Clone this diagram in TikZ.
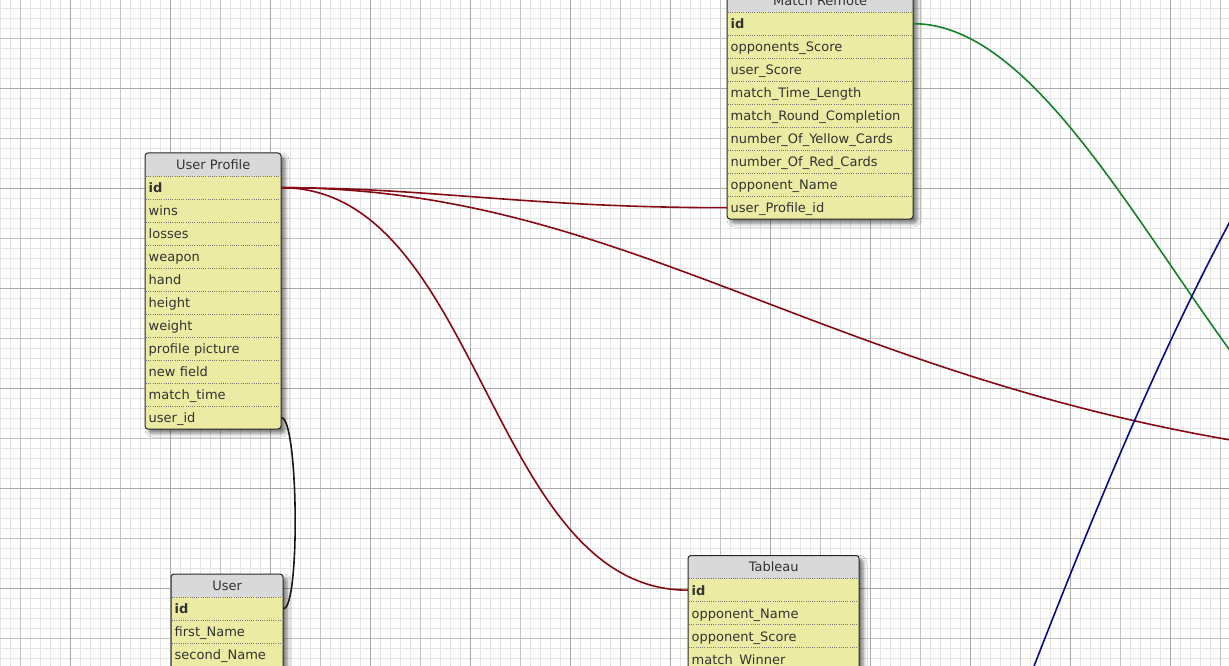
\documentclass[tikz,border=0pt]{standalone}
\usepackage{fontspec}
\setmainfont{DejaVu Sans}
\usetikzlibrary{shadows.blur}

\definecolor{gridminor}{HTML}{E4E4E4}
\definecolor{gridmid}{HTML}{C4C4C4}
\definecolor{gridmajor}{HTML}{AAAAAA}
\definecolor{headgray}{HTML}{D9D9D9}
\definecolor{rowyellow}{HTML}{EBEBA3}
\definecolor{inkgray}{HTML}{333333}
\definecolor{sepgray}{HTML}{777777}
\definecolor{fkred}{HTML}{850A14}
\definecolor{fkgreen}{HTML}{14822A}
\definecolor{fkblue}{HTML}{0A0A85}

\tikzset{
  minorline/.style={draw=gridminor, line width=1pt},
  midline/.style={draw=gridmid, line width=1pt},
  majorline/.style={draw=gridmajor, line width=1pt},
  tablebody/.style={fill=rowyellow, rounded corners=3pt,
    blur shadow={shadow xshift=4pt, shadow yshift=-4pt,
                 shadow blur radius=4pt, shadow opacity=55}},
  tableborder/.style={draw=black!85, line width=1pt, rounded corners=3pt},
  rowsep/.style={draw=sepgray, line width=0.8pt, dash pattern=on 1pt off 1.2pt},
  headcell/.style={anchor=north west, minimum height=23pt, inner sep=0pt,
    text height=11pt, text depth=2pt,
    text=inkgray, font=\fontsize{13}{15}\selectfont},
  rowcell/.style={anchor=north west, minimum height=23pt, inner ysep=0pt,
    inner xsep=3.5pt, align=left, text=inkgray,
    text height=11.5pt, text depth=1.5pt,
    font=\fontsize{13}{15}\selectfont},
  fk/.style={line width=1.6pt},
}

% \dbtable{name}{left}{top}{width}{rows in box}{title}{row labels}
\newcommand{\dbtable}[7]{%
  \path[tablebody] (#2,#3) rectangle ++(#4,{23*(#5+1)});
  \fill[headgray, rounded corners=3pt] (#2,#3) rectangle ++(#4,23);
  \fill[headgray] (#2,#3+10) rectangle ++(#4,13);
  \foreach \k in {1,...,#5}
    \draw[rowsep] (#2+1,{#3+23*\k}) -- (#2+#4-1,{#3+23*\k});
  \draw[tableborder] (#2,#3) rectangle ++(#4,{23*(#5+1)});
  \node[headcell, minimum width=#4pt] (#1-0) at (#2,#3) {#6};
  \pgfmathsetlengthmacro{\rowtw}{(#4-7)*1pt}
  \foreach \r [count=\i] in {#7}
    \node[rowcell, minimum width=#4pt, text width=\rowtw]
      (#1-\i) at (#2,{#3+23*\i}) {\mbox{\r}};
}

\begin{document}
\begin{tikzpicture}[x=1pt, y=-1pt]
\useasboundingbox (0,0) rectangle (1229,666);
\clip (0,0) rectangle (1229,666);
\fill[white] (0,0) rectangle (1229,666);

% background grid: fine lines every 10, heavier every 50 and 100
\foreach \x in {0,10,...,1220} \draw[minorline] (\x+0.5,0) -- (\x+0.5,666);
\foreach \y in {8,18,...,658} \draw[minorline] (0,\y+0.5) -- (1229,\y+0.5);
\foreach \x in {20,120,...,1220} \draw[midline] (\x+0.5,0) -- (\x+0.5,666);
\foreach \y in {38,138,...,638} \draw[midline] (0,\y+0.5) -- (1229,\y+0.5);
\foreach \x in {70,170,...,1170} \draw[majorline] (\x+0.5,0) -- (\x+0.5,666);
\foreach \y in {88,188,...,588} \draw[majorline] (0,\y+0.5) -- (1229,\y+0.5);

% tables
\dbtable{up}{145}{153}{136}{11}{User Profile}{{\textbf{id}},wins,losses,weapon,hand,height,weight,profile picture,new field,match\_time,user\_id}
\dbtable{mr}{727}{-11}{186}{9}{Match Remote}{{\textbf{id}},opponents\_Score,user\_Score,match\_Time\_Length,match\_Round\_Completion,number\_Of\_Yellow\_Cards,number\_Of\_Red\_Cards,opponent\_Name,user\_Profile\_id}
\dbtable{us}{171}{574}{112}{4}{User}{{\textbf{id}},first\_Name,second\_Name}
\dbtable{tb}{688}{555.5}{171}{5}{Tableau}{{\textbf{id}},opponent\_Name,opponent\_Score,match\_Winner}

% relation ends that lie beyond the visible sheet
\coordinate (farRed) at (1600,470);
\coordinate (farGreen) at (1450,525);
\coordinate (blueLow) at (1000,754);
\coordinate (blueHigh) at (1270,150);

% relations
\draw[fk, fkred] (up-1.east) .. controls +(150,0) and +(-200,0) .. (mr-9.west);
\draw[fk, fkred] (up-1.east) .. controls +(200,0) and +(-200,0) .. (tb-1.west);
\draw[fk, fkred] (up-1.east) .. controls +(419,0) and +(-700,0) .. (farRed);
\draw[fk, fkgreen] (mr-1.east) .. controls +(187,0) and +(-200,0) .. (farGreen);
\draw[fk, fkblue] (blueLow) .. controls +(90,-234) and +(-100,170) .. (blueHigh);
\draw[fk, black!90] (up-11.east) .. controls +(17,0) and +(17,0) .. (us-1.east);
\end{tikzpicture}
\end{document}
